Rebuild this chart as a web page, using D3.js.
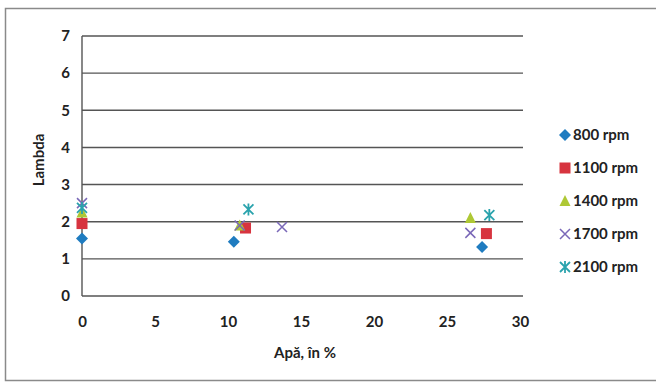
<!DOCTYPE html>
<html><head><meta charset="utf-8">
<script src="https://cdn.jsdelivr.net/npm/d3@7"></script>
<style>body{margin:0;background:#fff}text{font-family:Lato,"Open Sans","Liberation Sans",sans-serif}</style>
</head><body>
<svg id="c" width="656" height="385"></svg>
<script>
const seriesNames = ["800 rpm","1100 rpm","1400 rpm","1700 rpm","2100 rpm"];
const water800 = [0, 10.4, 27.4];   const lambda800 = [1.55, 1.46, 1.32];
const water1100 = [0, 11.2, 27.7];  const lambda1100 = [1.95, 1.83, 1.68];
const water1400 = [0, 10.8, 26.6];  const lambda1400 = [2.25, 1.9, 2.1];
const water1700 = [0, 10.8, 13.7, 26.6]; const lambda1700 = [2.5, 1.9, 1.86, 1.7];
const water2100 = [0, 11.4, 27.9];  const lambda2100 = [2.37, 2.33, 2.18];
const xTicks = [0,5,10,15,20,25,30];
const yTicks = [0,1,2,3,4,5,6,7];

const colors = ["#1f7cc0","#d7343f","#aec835","#7a68b8","#2aa3ad"];
const shapes = ["diamond","square","triangle","x","star"];
const series = [
  {x:water800,y:lambda800},{x:water1100,y:lambda1100},{x:water1400,y:lambda1400},
  {x:water1700,y:lambda1700},{x:water2100,y:lambda2100}
];

const svg = d3.select("#c");
svg.append("rect").attr("x",5.5).attr("y",8.5).attr("width",660).attr("height",372)
  .attr("fill","none").attr("stroke","#8a8a8a").attr("stroke-width",1.5);

const x = d3.scaleLinear().domain([0,30]).range([82,520]);
const y = d3.scaleLinear().domain([0,7]).range([296,36]);

svg.append("g").selectAll("line").data(yTicks).join("line")
  .attr("x1",x(0)).attr("x2",523).attr("y1",d=>y(d)).attr("y2",d=>y(d))
  .attr("stroke","#555").attr("stroke-width",1.4);
svg.append("line").attr("x1",x(0)).attr("x2",x(0)).attr("y1",y(7)).attr("y2",y(0))
  .attr("stroke","#555").attr("stroke-width",1.4);

const yAxis = d3.axisLeft(y).tickValues(yTicks).tickFormat(d3.format("d")).tickSize(0).tickPadding(12);
const gy = svg.append("g").attr("transform",`translate(${x(0)},0)`).call(yAxis);
gy.select(".domain").remove();
gy.selectAll("text").attr("font-size",15).attr("font-weight","bold").attr("fill","#222");

const xAxis = d3.axisBottom(x).tickValues(xTicks).tickSize(0).tickPadding(20);
const gx = svg.append("g").attr("transform",`translate(0,${y(0)})`).call(xAxis);
gx.select(".domain").remove();
gx.selectAll("text").attr("font-size",15).attr("font-weight","bold").attr("fill","#222");

svg.append("text").attr("x",305).attr("y",358).attr("text-anchor","middle")
  .attr("font-size",15).attr("font-weight","bold").attr("fill","#222").text("Apă, în %");
svg.append("text").attr("transform","translate(44,160) rotate(-90)").attr("text-anchor","middle")
  .attr("font-size",15).attr("font-weight","bold").attr("fill","#222").text("Lambda");

function marker(g, shape, color){
  if(shape==="diamond") g.append("path").attr("d","M0,-6L6,0L0,6L-6,0Z").attr("fill",color);
  else if(shape==="square") g.append("rect").attr("x",-5.5).attr("y",-5.5).attr("width",11).attr("height",11).attr("fill",color);
  else if(shape==="triangle") g.append("path").attr("d","M0,-6L5.5,5L-5.5,5Z").attr("fill",color);
  else if(shape==="x") g.append("path").attr("d","M-5,-5L5,5M-5,5L5,-5").attr("stroke",color).attr("stroke-width",1.5).attr("fill","none");
  else g.append("path").attr("d","M-5,-5L5,5M-5,5L5,-5M0,-6L0,6").attr("stroke",color).attr("stroke-width",1.8).attr("fill","none");
}

series.forEach((s,i)=>{
  s.x.forEach((xv,j)=>{
    const g = svg.append("g").attr("transform",`translate(${x(xv)},${y(s.y[j])})`);
    marker(g, shapes[i], colors[i]);
  });
});

const legY = [135,168,201,234,267];
seriesNames.forEach((n,i)=>{
  const g = svg.append("g").attr("transform",`translate(565,${legY[i]})`);
  marker(g, shapes[i], colors[i]);
  svg.append("text").attr("x",573).attr("y",legY[i]+5).attr("font-size",15)
    .attr("font-weight","bold").attr("fill","#222").text(n);
});
</script>
</body></html>
